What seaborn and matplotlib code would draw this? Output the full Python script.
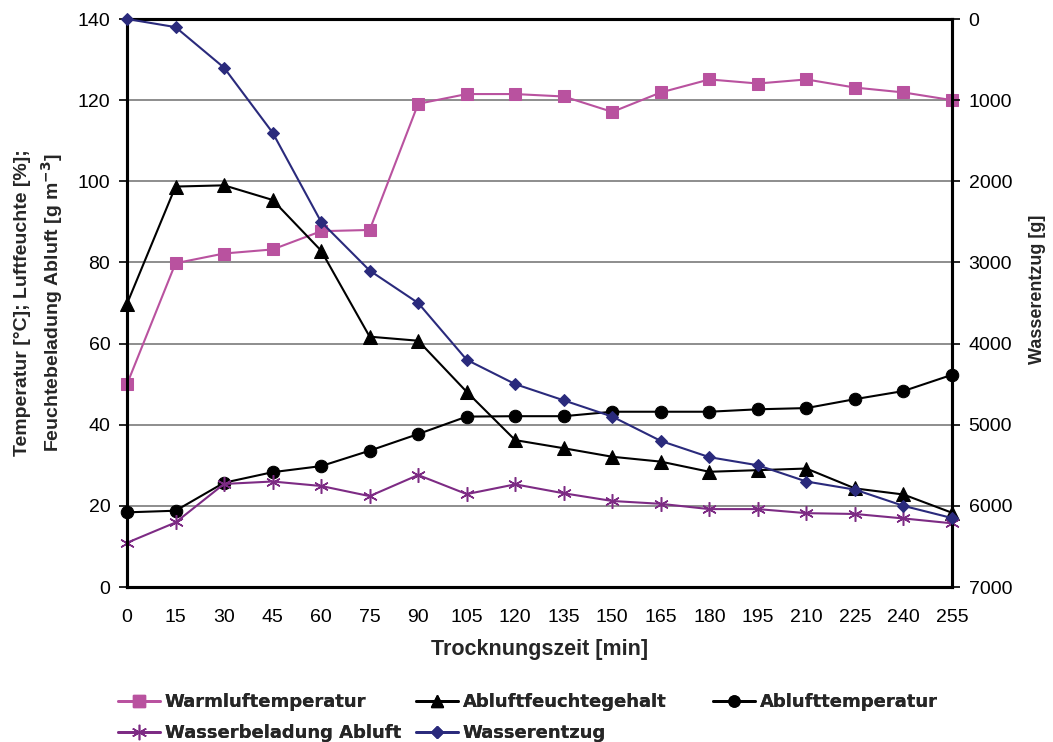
import matplotlib
matplotlib.use("Agg")
import matplotlib.pyplot as plt
import seaborn as sns
import pandas as pd
from matplotlib.lines import Line2D

time_min = [0, 15, 30, 45, 60, 75, 90, 105, 120, 135, 150, 165, 180, 195, 210, 225, 240, 255]
warmluft = [50.0, 79.8, 82.2, 83.2, 87.7, 88.0, 119.1, 121.5, 121.5, 120.9, 117.1, 121.9, 125.1, 124.1, 125.1, 123.1, 121.9, 120.0]
abluftfeuchte = [69.8, 98.7, 99.0, 95.4, 82.9, 61.7, 60.7, 48.1, 36.2, 34.2, 32.1, 30.9, 28.4, 28.8, 29.2, 24.3, 22.8, 18.3]
ablufttemp = [18.4, 18.8, 25.7, 28.3, 29.8, 33.6, 37.7, 42.0, 42.1, 42.1, 43.2, 43.2, 43.2, 43.8, 44.1, 46.3, 48.3, 52.3]
wasserbeladung = [10.9, 15.9, 25.4, 26.0, 24.9, 22.4, 27.6, 22.9, 25.3, 23.1, 21.2, 20.5, 19.2, 19.2, 18.2, 18.0, 16.9, 15.7]
wasserentzug = [0, 100, 600, 1400, 2500, 3100, 3500, 4200, 4500, 4700, 4900, 5200, 5400, 5500, 5700, 5800, 6000, 6150]

names = ["Warmluftemperatur", "Abluftfeuchtegehalt", "Ablufttemperatur",
         "Wasserbeladung Abluft", "Wasserentzug"]

sns.set_theme(style="white")
plt.rcParams['font.family'] = ['Liberation Sans', 'DejaVu Sans']

W, H = 1053, 742
fig = plt.figure(figsize=(W / 100, H / 100), dpi=100)
ax = fig.add_axes([127 / W, 1 - 587 / H, 825 / W, 568 / H])

pink = "#B9529F"
navy = "#2A2A7C"
purple = "#7D2B84"
black = "#000000"

df = pd.DataFrame({"t": time_min, "w": warmluft, "af": abluftfeuchte,
                   "at": ablufttemp, "wb": wasserbeladung, "we": wasserentzug})

common = dict(linewidth=1.5, clip_on=False, zorder=3)
sns.lineplot(data=df, x="t", y="w", ax=ax, color=pink, marker="s", markersize=8.5,
             markeredgecolor=pink, **common)
sns.lineplot(data=df, x="t", y="af", ax=ax, color=black, marker="^", markersize=9.5,
             markeredgecolor=black, **common)
sns.lineplot(data=df, x="t", y="at", ax=ax, color=black, marker="o", markersize=9,
             markeredgecolor=black, **common)
sns.lineplot(data=df, x="t", y="wb", ax=ax, color=purple, marker=(6, 2, 0), markersize=10.5,
             markeredgecolor=purple, markeredgewidth=1.1, **common)

ax2 = ax.twinx()
sns.lineplot(data=df, x="t", y="we", ax=ax2, color=navy, marker="D", markersize=6.5,
             markeredgecolor=navy, **common)

ax.set_xlim(0, 255)
ax.set_ylim(0, 140)
ax2.set_ylim(7000, 0)
ax.set_xticks(time_min)
ax.set_yticks(range(0, 141, 20))
ax2.set_yticks(range(0, 7001, 1000))

ax.yaxis.grid(True, color="#7a7a7a", linewidth=1.2)
ax.set_axisbelow(True)

for a in (ax, ax2):
    for s in a.spines.values():
        s.set_color("black")
        s.set_linewidth(2.2)
    a.tick_params(direction="out", length=6, width=1.2, color="black",
                  labelsize=14, labelcolor="black", pad=6)
    a.set_xlabel("")
    a.set_ylabel("")
ax.tick_params(axis="x", pad=10)

ax.set_xlabel("Trocknungszeit [min]", fontsize=15.5, fontweight="bold", labelpad=9)
ax.set_ylabel("Temperatur [°C]; Luftfeuchte [%];\nFeuchtebeladung Abluft [g m$^{\\mathbf{-3}}$]",
              fontsize=14, fontweight="bold", labelpad=9, linespacing=1.4)
ax2.set_ylabel("Wasserentzug [g]", fontsize=13, fontweight="bold")
ax2.yaxis.set_label_coords((1029 - 127) / 825, (587 - 289) / 568)

h_warm = Line2D([], [], color=pink, marker="s", markersize=8, linewidth=2)
h_wb = Line2D([], [], color=purple, marker=(6, 2, 0), markersize=11, linewidth=2)
h_af = Line2D([], [], color=black, marker="^", markersize=8, linewidth=2)
h_we = Line2D([], [], color=navy, marker="D", markersize=6, linewidth=2)
h_at = Line2D([], [], color=black, marker="o", markersize=8, linewidth=2)

leg_prop = {"weight": "bold", "size": 13, "family": "DejaVu Sans"}
cols = [
    ([h_warm, h_wb], [names[0], names[3]], 118),
    ([h_af, h_we], [names[1], names[4]], 416),
    ([h_at], [names[2]], 713),
]
for hs, ls, x0 in cols:
    lg = fig.legend(hs, ls, loc="upper left", bbox_to_anchor=(x0 / W, 1 - 693 / H),
                    frameon=False, prop=leg_prop, handlelength=2.3, handletextpad=0.3,
                    labelspacing=0.72, borderpad=0, borderaxespad=0)
    fig.add_artist(lg)

fig.savefig("out.png", dpi=100)
